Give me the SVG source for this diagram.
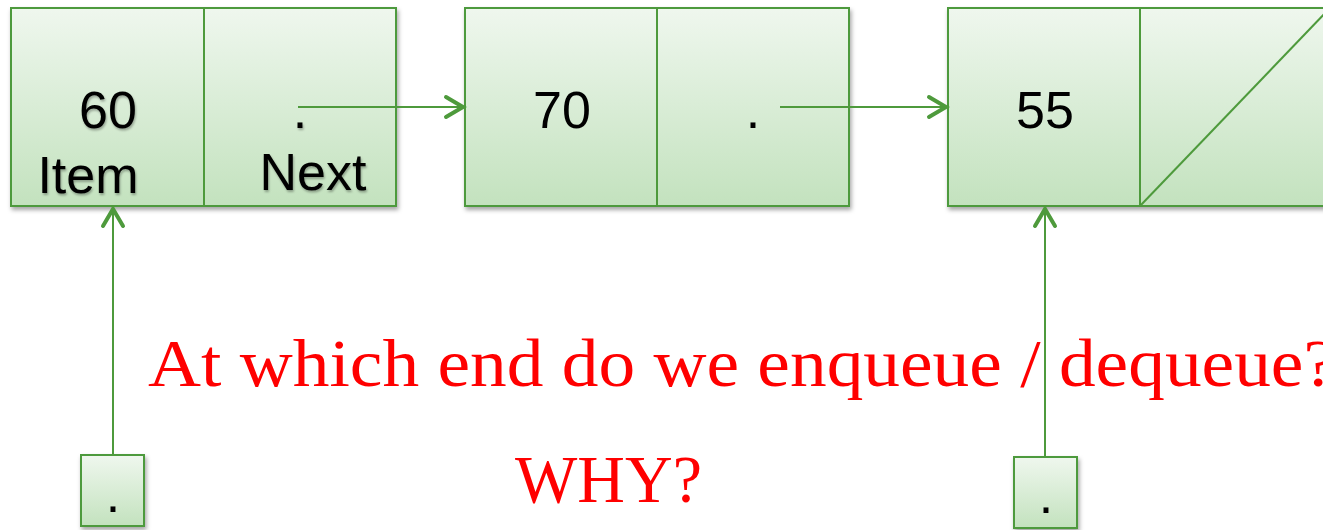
<svg xmlns="http://www.w3.org/2000/svg" width="1323" height="530" viewBox="0 0 1323 530">
<defs>
<linearGradient id="g" x1="0" y1="0" x2="0" y2="1">
<stop offset="0" stop-color="#eff7ee"/>
<stop offset="1" stop-color="#c3e2be"/>
</linearGradient>
<filter id="sh" x="-10%" y="-10%" width="130%" height="130%">
<feDropShadow dx="1.5" dy="3" stdDeviation="2" flood-color="#000" flood-opacity="0.35"/>
</filter>
<filter id="tsh" x="-10%" y="-10%" width="130%" height="130%">
<feDropShadow dx="1" dy="2" stdDeviation="1.2" flood-color="#000" flood-opacity="0.3"/>
</filter>
<marker id="ah" markerUnits="userSpaceOnUse" viewBox="0 0 24 26" refX="21" refY="13" markerWidth="24" markerHeight="26" orient="auto">
<path d="M3,3 L20,13 L3,23" fill="none" stroke="#4e9a3c" stroke-width="4" stroke-linecap="round" stroke-linejoin="miter"/>
</marker>
</defs>
<style>
.cell{fill:url(#g);stroke:#4e9a3c;stroke-width:2}
.lbl{font-family:"Liberation Sans",Arial,sans-serif;font-size:52px;fill:#000}
.con{stroke:#4e9a3c;stroke-width:2;fill:none}
.q{font-family:"Liberation Serif","Times New Roman",serif;font-size:68px;fill:#ff0000}
</style>
<g id="node1">
<rect class="cell" x="11" y="8" width="385" height="198" filter="url(#sh)"/>
<line x1="204" y1="8" x2="204" y2="206" stroke="#4e9a3c" stroke-width="2"/>
<g filter="url(#tsh)">
<text class="lbl" x="108" y="128" text-anchor="middle">60</text>
<text class="lbl" x="88" y="193" text-anchor="middle">Item</text>
<text class="lbl" x="300" y="128" text-anchor="middle">.</text>
<text class="lbl" x="313" y="190" text-anchor="middle">Next</text>
</g>
</g>
<g id="node2">
<rect class="cell" x="465" y="8" width="384" height="198" filter="url(#sh)"/>
<line x1="657" y1="8" x2="657" y2="206" stroke="#4e9a3c" stroke-width="2"/>
<text class="lbl" x="562" y="128" text-anchor="middle">70</text>
<text class="lbl" x="753" y="128" text-anchor="middle">.</text>
</g>
<g id="node3">
<rect class="cell" x="948" y="8" width="384" height="198" filter="url(#sh)"/>
<line x1="1140" y1="8" x2="1140" y2="206" stroke="#4e9a3c" stroke-width="2"/>
<line x1="1140" y1="206" x2="1330" y2="8" stroke="#4e9a3c" stroke-width="2"/>
<text class="lbl" x="1045" y="128" text-anchor="middle">55</text>
</g>
<g id="front">
<rect class="cell" x="81" y="455" width="63" height="71" stroke-width="3" filter="url(#sh)"/>
<text class="lbl" x="113" y="512" text-anchor="middle">.</text>
</g>
<g id="rear">
<rect class="cell" x="1014" y="457" width="63" height="71" stroke-width="3" filter="url(#sh)"/>
<text class="lbl" x="1046" y="513" text-anchor="middle">.</text>
</g>
<g id="connectors">
<line class="con" x1="298" y1="107" x2="464" y2="107" marker-end="url(#ah)"/>
<line class="con" x1="780" y1="107" x2="947" y2="107" marker-end="url(#ah)"/>
<line class="con" x1="113" y1="455" x2="113" y2="208" marker-end="url(#ah)"/>
<line class="con" x1="1045" y1="457" x2="1045" y2="208" marker-end="url(#ah)"/>
</g>
<g id="question">
<text class="q" x="148" y="386" textLength="1188" lengthAdjust="spacingAndGlyphs">At which end do we enqueue / dequeue?</text>
<text class="q" x="515" y="502" textLength="187" lengthAdjust="spacingAndGlyphs">WHY?</text>
</g>
</svg>
